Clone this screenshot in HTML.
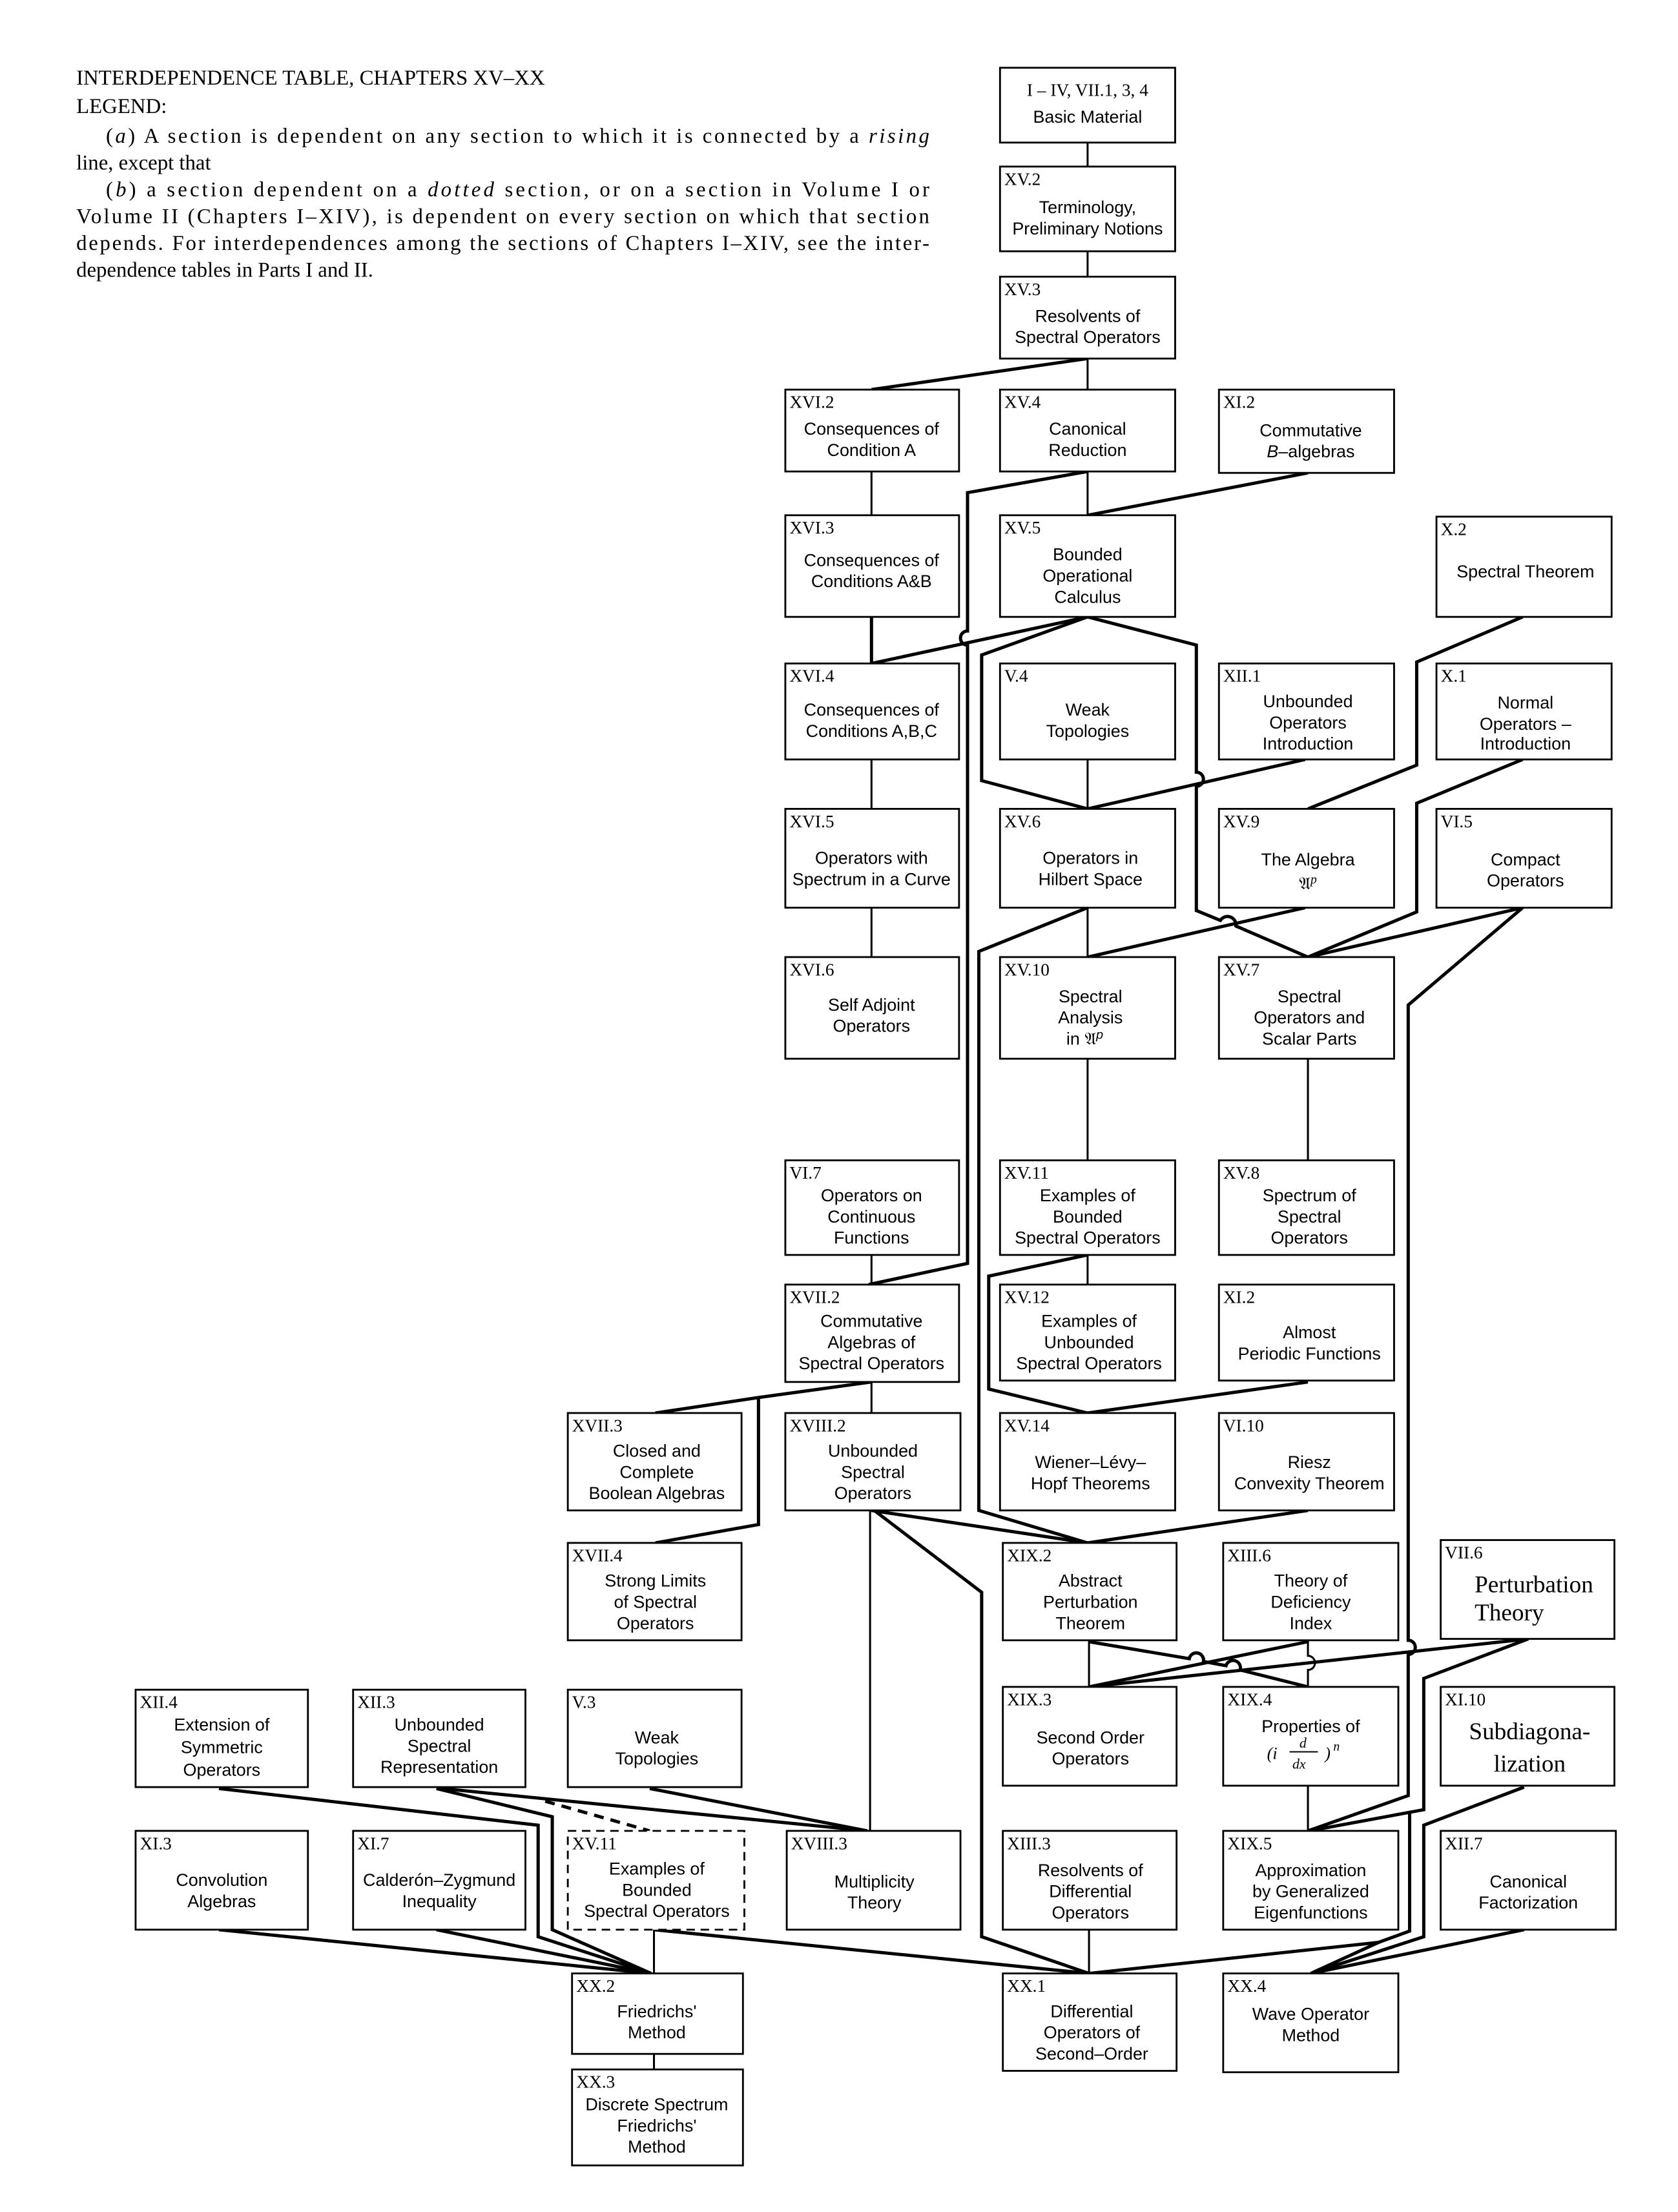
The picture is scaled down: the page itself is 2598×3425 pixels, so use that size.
<!DOCTYPE html>
<html><head><meta charset="utf-8"><style>
html,body{margin:0;padding:0;background:#fff}
svg{display:block}
.b{fill:#fff;stroke:#000;stroke-width:1.3}
.t{fill:none;stroke:#000;stroke-width:1.4}
.T{fill:none;stroke:#000;stroke-width:2.3;stroke-linejoin:miter}
.l{font-family:"Liberation Serif",serif;font-size:12.5px}
.s{font-family:"Liberation Sans Narrow","Liberation Sans",sans-serif;font-size:12.3px;text-anchor:middle}
.h{font-family:"Liberation Serif",serif;font-size:15px}
.big{font-family:"Liberation Serif",serif;font-size:17px}
</style></head><body>
<svg width="2598" height="3425" viewBox="0 0 1188 1567" preserveAspectRatio="none" xmlns="http://www.w3.org/2000/svg">
<!-- header -->
<text class="h" x="54" y="60">INTERDEPENDENCE TABLE, CHAPTERS XV–XX</text>
<text class="h" x="54" y="80">LEGEND:</text>
<text class="h" x="75" y="101" textLength="583" lengthAdjust="spacing">(<tspan font-style="italic">a</tspan>) A section is dependent on any section to which it is connected by a <tspan font-style="italic">rising</tspan></text>
<text class="h" x="54" y="120">line, except that</text>
<text class="h" x="75" y="139" textLength="583" lengthAdjust="spacing">(<tspan font-style="italic">b</tspan>) a section dependent on a <tspan font-style="italic">dotted</tspan> section, or on a section in Volume I or</text>
<text class="h" x="54" y="158" textLength="604" lengthAdjust="spacing">Volume II (Chapters I–XIV), is dependent on every section on which that section</text>
<text class="h" x="54" y="177" textLength="604" lengthAdjust="spacing">depends. For interdependences among the sections of Chapters I–XIV, see the inter-</text>
<text class="h" x="54" y="196">dependence tables in Parts I and II.</text>

<!-- connectors thin -->
<g class="t">
<path d="M770,101V118M770,178V196M770,254V276M617,334V365M770,334V365M617,538V573M770,538V573M617,643V678M770,643V678M770,750V822M926,750V822M617,889V910M770,889V910M617,979V1001M771,1162V1195M926,1265V1297M771,1367V1398M463,1455V1466M463,1367V1398M616,1070V1297"/>
<path d="M926,1162V1173A5,5 0 0 1 926,1183V1195"/>
</g>
<g class="T">
<path d="M617,437V470"/>
<path d="M770,254L617,276"/>
<path d="M770,334L685,349V447A5,5 0 0 0 685,457V895L615,910"/>
<path d="M926,335L770,365"/>
<path d="M770,437L617,470"/>
<path d="M770,437L695,464V553L770,573"/>
<path d="M770,437L847,457V547A5,5 0 0 1 847,557V645L864,652A6,6 0 0 1 875,656L926,678"/>
<path d="M924,538L770,573"/>
<path d="M1078,437L1003,469V542L926,573"/>
<path d="M1078,538L1003,569V646L926,678"/>
<path d="M1078,643L926,678"/>
<path d="M1078,643L997,712V1162A5,5 0 0 1 997,1172V1272L926,1297"/>
<path d="M770,643L693,674V1070L770,1093"/>
<path d="M924,643L770,678"/>
<path d="M770,889L700,904V984L770,1001"/>
<path d="M926,979L770,1001"/>
<path d="M926,1070L770,1093"/>
<path d="M617,1070L770,1093"/>
<path d="M617,979L537,990L464,1001M537,990V1080L464,1093"/>
<path d="M619,1070L695,1128V1372L771,1398"/>
<path d="M771,1163L842,1175A5,5 0 0 1 852,1177L868,1180A5,5 0 0 1 878,1183L926,1195"/>
<path d="M926,1163L771,1195"/>
<path d="M1082,1161L771,1195"/>
<path d="M1082,1161L1008,1189V1282L927,1297"/>
<path d="M998,1284V1368L976,1376L771,1398M976,1376L928,1398"/>
<path d="M1079,1266L1008,1293V1372L928,1398"/>
<path d="M1079,1367L928,1398"/>
<path d="M463,1367L771,1398"/>
<path d="M155,1267L381,1293V1372L461,1398"/>
<path d="M309,1267L391,1287V1367L461,1398"/>
<path d="M313,1267L614,1297"/>
<path d="M460,1267L614,1297"/>
<path d="M155,1367L461,1398"/>
<path d="M309,1367L461,1398"/>
</g>
<path d="M386,1276L460,1297" fill="none" stroke="#000" stroke-width="2.3" stroke-dasharray="7,5"/>

<!-- boxes -->
<g class="b">
<rect x="708" y="48" width="124" height="53"/>
<rect x="708" y="118" width="124" height="60"/>
<rect x="708" y="196" width="124" height="58"/>
<rect x="556" y="276" width="123" height="58"/>
<rect x="708" y="276" width="124" height="58"/>
<rect x="863" y="276" width="124" height="59"/>
<rect x="556" y="365" width="123" height="72"/>
<rect x="708" y="365" width="124" height="72"/>
<rect x="1017" y="366" width="124" height="71"/>
<rect x="556" y="470" width="123" height="68"/>
<rect x="708" y="470" width="124" height="68"/>
<rect x="863" y="470" width="124" height="68"/>
<rect x="1017" y="470" width="124" height="68"/>
<rect x="556" y="573" width="123" height="70"/>
<rect x="708" y="573" width="124" height="70"/>
<rect x="863" y="573" width="124" height="70"/>
<rect x="1017" y="573" width="124" height="70"/>
<rect x="556" y="678" width="123" height="72"/>
<rect x="708" y="678" width="124" height="72"/>
<rect x="863" y="678" width="124" height="72"/>
<rect x="556" y="822" width="123" height="67"/>
<rect x="708" y="822" width="124" height="67"/>
<rect x="863" y="822" width="124" height="67"/>
<rect x="556" y="910" width="123" height="69"/>
<rect x="708" y="910" width="124" height="68"/>
<rect x="863" y="910" width="124" height="68"/>
<rect x="402" y="1001" width="123" height="69"/>
<rect x="556" y="1001" width="124" height="69"/>
<rect x="708" y="1001" width="124" height="69"/>
<rect x="863" y="1001" width="124" height="69"/>
<rect x="402" y="1093" width="123" height="69"/>
<rect x="710" y="1093" width="123" height="69"/>
<rect x="866" y="1093" width="124" height="69"/>
<rect x="1020" y="1091" width="123" height="70"/>
<rect x="96" y="1197" width="122" height="69"/>
<rect x="250" y="1197" width="122" height="69"/>
<rect x="402" y="1197" width="123" height="69"/>
<rect x="710" y="1195" width="123" height="70"/>
<rect x="866" y="1195" width="124" height="70"/>
<rect x="1020" y="1195" width="123" height="70"/>
<rect x="96" y="1297" width="122" height="70"/>
<rect x="250" y="1297" width="122" height="70"/>
<rect x="557" y="1297" width="123" height="70"/>
<rect x="710" y="1297" width="123" height="70"/>
<rect x="866" y="1297" width="124" height="70"/>
<rect x="1020" y="1297" width="124" height="70"/>
<rect x="405" y="1398" width="121" height="57"/>
<rect x="710" y="1398" width="123" height="69"/>
<rect x="866" y="1398" width="124" height="70"/>
<rect x="405" y="1466" width="121" height="68"/>
</g>
<rect x="402" y="1297" width="125" height="70" fill="#fff" stroke="#000" stroke-width="1.3" stroke-dasharray="6,4"/>

<!-- section labels -->
<g class="l">
<text x="770" y="68" text-anchor="middle">I – IV, VII.1, 3, 4</text>
<text x="711" y="131">XV.2</text>
<text x="711" y="209">XV.3</text>
<text x="559" y="289">XVI.2</text>
<text x="711" y="289">XV.4</text>
<text x="866" y="289">XI.2</text>
<text x="559" y="378">XVI.3</text>
<text x="711" y="378">XV.5</text>
<text x="1020" y="379">X.2</text>
<text x="559" y="483">XVI.4</text>
<text x="711" y="483">V.4</text>
<text x="866" y="483">XII.1</text>
<text x="1020" y="483">X.1</text>
<text x="559" y="586">XVI.5</text>
<text x="711" y="586">XV.6</text>
<text x="866" y="586">XV.9</text>
<text x="1020" y="586">VI.5</text>
<text x="559" y="691">XVI.6</text>
<text x="711" y="691">XV.10</text>
<text x="866" y="691">XV.7</text>
<text x="559" y="835">VI.7</text>
<text x="711" y="835">XV.11</text>
<text x="866" y="835">XV.8</text>
<text x="559" y="923">XVII.2</text>
<text x="711" y="923">XV.12</text>
<text x="866" y="923">XI.2</text>
<text x="405" y="1014">XVII.3</text>
<text x="559" y="1014">XVIII.2</text>
<text x="711" y="1014">XV.14</text>
<text x="866" y="1014">VI.10</text>
<text x="405" y="1106">XVII.4</text>
<text x="713" y="1106">XIX.2</text>
<text x="869" y="1106">XIII.6</text>
<text x="1023" y="1104">VII.6</text>
<text x="99" y="1210">XII.4</text>
<text x="253" y="1210">XII.3</text>
<text x="405" y="1210">V.3</text>
<text x="713" y="1208">XIX.3</text>
<text x="869" y="1208">XIX.4</text>
<text x="1023" y="1208">XI.10</text>
<text x="99" y="1310">XI.3</text>
<text x="253" y="1310">XI.7</text>
<text x="405" y="1310">XV.11</text>
<text x="560" y="1310">XVIII.3</text>
<text x="713" y="1310">XIII.3</text>
<text x="869" y="1310">XIX.5</text>
<text x="1023" y="1310">XII.7</text>
<text x="408" y="1411">XX.2</text>
<text x="713" y="1411">XX.1</text>
<text x="869" y="1411">XX.4</text>
<text x="408" y="1479">XX.3</text>
</g>

<!-- body text -->
<g class="s">
<text x="770" y="87">Basic Material</text>
<text x="770" y="151">Terminology,</text><text x="770" y="166">Preliminary Notions</text>
<text x="770" y="228">Resolvents of</text><text x="770" y="243">Spectral Operators</text>
<text x="617" y="308">Consequences of</text><text x="617" y="323">Condition A</text>
<text x="770" y="308">Canonical</text><text x="770" y="323">Reduction</text>
<text x="928" y="309">Commutative</text><text x="928" y="324"><tspan font-style="italic">B</tspan>–algebras</text>
<text x="617" y="401">Consequences of</text><text x="617" y="416">Conditions A&amp;B</text>
<text x="770" y="397">Bounded</text><text x="770" y="412">Operational</text><text x="770" y="427">Calculus</text>
<text x="1080" y="409">Spectral Theorem</text>
<text x="617" y="507">Consequences of</text><text x="617" y="522">Conditions A,B,C</text>
<text x="770" y="507">Weak</text><text x="770" y="522">Topologies</text>
<text x="926" y="501">Unbounded</text><text x="926" y="516">Operators</text><text x="926" y="531">Introduction</text>
<text x="1080" y="502">Normal</text><text x="1080" y="517">Operators –</text><text x="1080" y="531">Introduction</text>
<text x="617" y="612">Operators with</text><text x="617" y="627">Spectrum in a Curve</text>
<text x="772" y="612">Operators in</text><text x="772" y="627">Hilbert Space</text>
<text x="926" y="613">The Algebra</text><text x="926" y="630" font-family="Liberation Serif,serif">𝔄<tspan dy="-4" font-size="9" font-style="italic">p</tspan></text>
<text x="1080" y="613">Compact</text><text x="1080" y="628">Operators</text>
<text x="617" y="716">Self Adjoint</text><text x="617" y="731">Operators</text>
<text x="772" y="710">Spectral</text><text x="772" y="725">Analysis</text><text x="768" y="740">in 𝔄<tspan dy="-4" font-size="9" font-style="italic">p</tspan></text>
<text x="927" y="710">Spectral</text><text x="927" y="725">Operators and</text><text x="927" y="740">Scalar Parts</text>
<text x="617" y="851">Operators on</text><text x="617" y="866">Continuous</text><text x="617" y="881">Functions</text>
<text x="770" y="851">Examples of</text><text x="770" y="866">Bounded</text><text x="770" y="881">Spectral Operators</text>
<text x="927" y="851">Spectrum of</text><text x="927" y="866">Spectral</text><text x="927" y="881">Operators</text>
<text x="617" y="940">Commutative</text><text x="617" y="955">Algebras of</text><text x="617" y="970">Spectral Operators</text>
<text x="771" y="940">Examples of</text><text x="771" y="955">Unbounded</text><text x="771" y="970">Spectral Operators</text>
<text x="927" y="948">Almost</text><text x="927" y="963">Periodic Functions</text>
<text x="465" y="1032">Closed and</text><text x="465" y="1047">Complete</text><text x="465" y="1062">Boolean Algebras</text>
<text x="618" y="1032">Unbounded</text><text x="618" y="1047">Spectral</text><text x="618" y="1062">Operators</text>
<text x="772" y="1040">Wiener–Lévy–</text><text x="772" y="1055">Hopf Theorems</text>
<text x="927" y="1040">Riesz</text><text x="927" y="1055">Convexity Theorem</text>
<text x="464" y="1124">Strong Limits</text><text x="464" y="1139">of Spectral</text><text x="464" y="1154">Operators</text>
<text x="772" y="1124">Abstract</text><text x="772" y="1139">Perturbation</text><text x="772" y="1154">Theorem</text>
<text x="928" y="1124">Theory of</text><text x="928" y="1139">Deficiency</text><text x="928" y="1154">Index</text>
<text x="157" y="1226">Extension of</text><text x="157" y="1242">Symmetric</text><text x="157" y="1258">Operators</text>
<text x="311" y="1226">Unbounded</text><text x="311" y="1241">Spectral</text><text x="311" y="1256">Representation</text>
<text x="465" y="1235">Weak</text><text x="465" y="1250">Topologies</text>
<text x="772" y="1235">Second Order</text><text x="772" y="1250">Operators</text>
<text x="928" y="1227">Properties of</text>
<text x="157" y="1336">Convolution</text><text x="157" y="1351">Algebras</text>
<text x="311" y="1336">Calderón–Zygmund</text><text x="311" y="1351">Inequality</text>
<text x="465" y="1328">Examples of</text><text x="465" y="1343">Bounded</text><text x="465" y="1358">Spectral Operators</text>
<text x="619" y="1337">Multiplicity</text><text x="619" y="1352">Theory</text>
<text x="772" y="1329">Resolvents of</text><text x="772" y="1344">Differential</text><text x="772" y="1359">Operators</text>
<text x="928" y="1329">Approximation</text><text x="928" y="1344">by Generalized</text><text x="928" y="1359">Eigenfunctions</text>
<text x="1082" y="1337">Canonical</text><text x="1082" y="1352">Factorization</text>
<text x="465" y="1429">Friedrichs'</text><text x="465" y="1444">Method</text>
<text x="773" y="1429">Differential</text><text x="773" y="1444">Operators of</text><text x="773" y="1459">Second–Order</text>
<text x="928" y="1431">Wave Operator</text><text x="928" y="1446">Method</text>
<text x="465" y="1495">Discrete Spectrum</text><text x="465" y="1510">Friedrichs'</text><text x="465" y="1525">Method</text>
</g>
<!-- (i d/dx)^n -->
<g font-family="Liberation Serif,serif" font-style="italic" font-size="12">
<text x="897" y="1246">(<tspan>i</tspan></text>
<text x="920" y="1238" font-size="10">d</text>
<line x1="913" y1="1241" x2="933" y2="1241" stroke="#000" stroke-width="0.9"/>
<text x="915" y="1253" font-size="10">dx</text>
<text x="938" y="1246">)</text>
<text x="944" y="1240" font-size="9">n</text>
</g>
<text class="big" x="1044" y="1128">Perturbation</text>
<text class="big" x="1044" y="1148">Theory</text>
<text class="big" x="1083" y="1232" text-anchor="middle">Subdiagona-</text>
<text class="big" x="1083" y="1255" text-anchor="middle">lization</text>
</svg>
</body></html>
